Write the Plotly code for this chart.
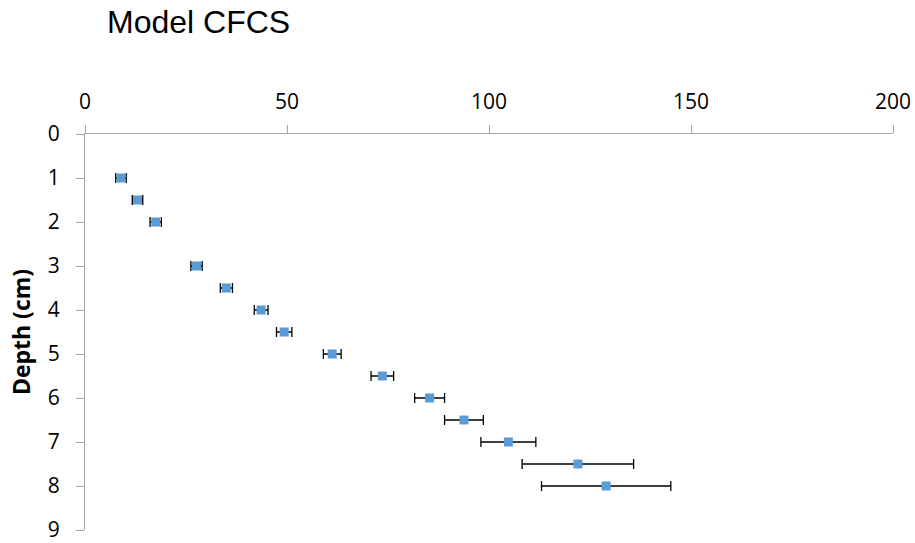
import plotly.graph_objects as go

depth = [1, 1.5, 2, 3, 3.5, 4, 4.5, 5, 5.5, 6, 6.5, 7, 7.5, 8]
value = [8.9, 13.0, 17.5, 27.6, 35.0, 43.6, 49.3, 61.2, 73.6, 85.3, 93.8, 104.8, 122.0, 129.0]
err = [1.3, 1.3, 1.4, 1.4, 1.5, 1.7, 1.9, 2.2, 2.8, 3.7, 4.8, 6.8, 13.8, 16.0]
x_ticks = [0, 50, 100, 150, 200]
y_ticks = list(range(0, 10))

tickfont = dict(family="Open Sans, Liberation Sans", size=21, color="black")

fig = go.Figure()
fig.add_trace(go.Scatter(
    x=value, y=depth, mode="markers",
    marker=dict(symbol="square", size=9, color="#5B9BD5"),
    error_x=dict(type="data", array=err, visible=True, color="black", thickness=1.3, width=5),
    showlegend=False,
))

fig.update_layout(
    width=915, height=543,
    paper_bgcolor="white", plot_bgcolor="white",
    margin=dict(l=85, r=22, t=134, b=13),
    title=dict(text="Model CFCS", x=107/915, xanchor="left", y=1-22/543, yanchor="middle",
               font=dict(family="Liberation Sans, Arial", size=32, color="black")),
    xaxis=dict(side="top", range=[0, 200], tickvals=x_ticks, ticks="outside", ticklen=8,
               tickcolor="#A6A6A6", showline=True, linecolor="#A6A6A6", linewidth=1,
               showgrid=False, zeroline=False, ticklabelstandoff=8, automargin=False,
               ticklabeloverflow="allow", tickfont=tickfont),
    yaxis=dict(range=[9, 0], tickvals=y_ticks, ticks="outside", ticklen=8,
               tickcolor="#A6A6A6", showline=True, linecolor="#A6A6A6", linewidth=1,
               showgrid=False, zeroline=False, ticklabelstandoff=12, automargin=False,
               ticklabeloverflow="allow",
               title=dict(text="<b>Depth (cm)</b>", standoff=10,
                          font=dict(family="Open Sans, Liberation Sans", size=23, color="black")),
               tickfont=tickfont),
)

fig.write_html("out.html", config={"displayModeBar": False},
               post_script="document.body.style.margin='0';")
